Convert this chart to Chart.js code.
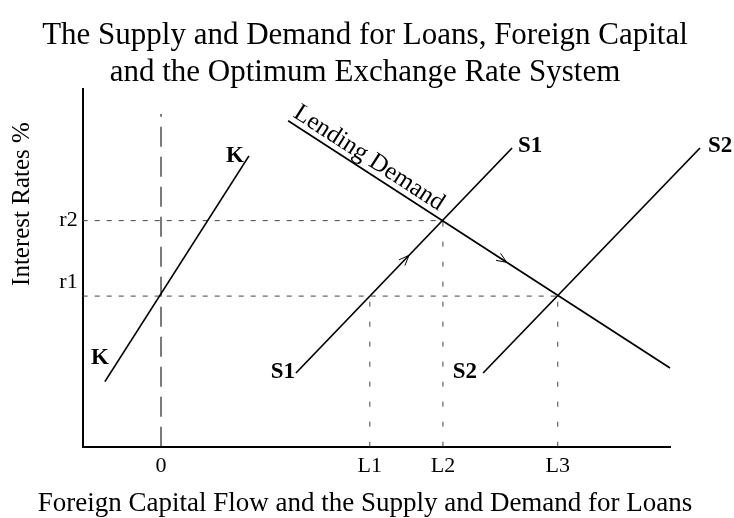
<!DOCTYPE html>
<html lang="en">
<head>
<meta charset="UTF-8">
<title>Supply and Demand for Loans</title>
<script src="https://cdn.jsdelivr.net/npm/chart.js"></script>
<style>
  body { margin: 0; background: #fff; }
  #wrap { width: 734px; height: 518px; }
</style>
</head>
<body>
<div id="wrap"><canvas id="chart" width="734" height="518"></canvas></div>
<script>
    // tick labels
    const rateTicks = [4.6, 6.32];
    const rateLabels = ['r1', 'r2'];
    const flowTicks = [0, 8.0, 10.8, 15.2];
    const flowLabels = ['0', 'L1', 'L2', 'L3'];

    // equilibrium levels
    const r1 = 4.21, r2 = 6.32;
    const L1 = 8.0, L2 = 10.8, L3 = 15.2;

    // curves: x = capital flow / loans, y = interest rate
    const kCurve = [{ x: -2.15, y: 1.82 }, { x: 3.37, y: 8.13 }];
    const s1Curve = [{ x: 5.17, y: 2.06 }, { x: 13.45, y: 8.35 }];
    const s2Curve = [{ x: 12.34, y: 2.06 }, { x: 20.65, y: 8.35 }];
    const demandCurve = [{ x: 4.87, y: 9.11 }, { x: 19.5, y: 2.2 }];
    const zeroLine = [{ x: 0, y: 0 }, { x: 0, y: 9.3 }];

    // arrows sit on these x values of S1 and the demand curve
    const arrowAt = [{ curve: 1, x: 9.5 }, { curve: 3, x: 13.25 }];

    const xMin = -3, xMax = 19.5;
    const serif = '"Liberation Serif", "Times New Roman", serif';

    function solid(data) {
        return { data: data, showLine: true, borderColor: '#000', borderWidth: 1.7, pointRadius: 0, clip: false };
    }

    function dashed(data, dash, color, width) {
        return { data: data, showLine: true, borderColor: color, borderWidth: width, borderDash: dash, pointRadius: 0, clip: false };
    }

    const datasets = [
        solid(kCurve),
        solid(s1Curve),
        solid(s2Curve),
        solid(demandCurve),
        dashed(zeroLine, [20, 10], '#222', 1.2),
        dashed([{ x: xMin, y: r2 }, { x: L2, y: r2 }], [5, 7], '#444', 1),
        dashed([{ x: xMin, y: r1 }, { x: L3, y: r1 }], [5, 7], '#444', 1),
        dashed([{ x: L1, y: 0 }, { x: L1, y: r1 }], [5, 15], '#444', 1),
        dashed([{ x: L2, y: 0 }, { x: L2, y: r2 }], [5, 15], '#444', 1),
        dashed([{ x: L3, y: 0 }, { x: L3, y: r1 }], [5, 15], '#444', 1)
    ];

    // curve end labels: which dataset, which end, text and nudge
    const endLabels = [
        { ds: 0, end: 0, text: 'K', dx: -5, dy: -24, align: 'center' },
        { ds: 0, end: 1, text: 'K', dx: -5, dy: 0, align: 'right' },
        { ds: 1, end: 0, text: 'S1', dx: -1, dy: -1, align: 'right' },
        { ds: 1, end: 1, text: 'S1', dx: 6, dy: -2, align: 'left' },
        { ds: 2, end: 0, text: 'S2', dx: -6, dy: -1, align: 'right' },
        { ds: 2, end: 1, text: 'S2', dx: 8, dy: -2, align: 'left' }
    ];

    const annotate = {
        id: 'annotate',
        afterDatasetsDraw(chart) {
            const { ctx, scales } = chart;
            const px = p => ({ x: scales.x.getPixelForValue(p.x), y: scales.y.getPixelForValue(p.y) });
            ctx.save();
            ctx.fillStyle = '#000';
            ctx.strokeStyle = '#000';

            // labels at line ends
            ctx.font = 'bold 23px ' + serif;
            ctx.textBaseline = 'middle';
            endLabels.forEach(l => {
                const p = px(chart.data.datasets[l.ds].data[l.end]);
                ctx.textAlign = l.align;
                ctx.fillText(l.text, p.x + l.dx, p.y + l.dy);
            });

            // arrow heads
            ctx.lineWidth = 1;
            arrowAt.forEach(a => {
                const d = chart.data.datasets[a.curve].data;
                const t = (a.x - d[0].x) / (d[1].x - d[0].x);
                const tip = px({ x: a.x, y: d[0].y + t * (d[1].y - d[0].y) });
                const p0 = px(d[0]), p1 = px(d[1]);
                const ang = Math.atan2(p1.y - p0.y, p1.x - p0.x);
                const len = 11, spread = 22 * Math.PI / 180;
                ctx.beginPath();
                ctx.moveTo(tip.x - len * Math.cos(ang - spread), tip.y - len * Math.sin(ang - spread));
                ctx.lineTo(tip.x, tip.y);
                ctx.lineTo(tip.x - len * Math.cos(ang + spread), tip.y - len * Math.sin(ang + spread));
                ctx.stroke();
            });

            // "Lending Demand" written along the demand curve
            const a = px(demandCurve[0]), b = px(demandCurve[1]);
            ctx.save();
            ctx.translate(a.x, a.y);
            ctx.rotate(Math.atan2(b.y - a.y, b.x - a.x));
            ctx.font = '25px ' + serif;
            ctx.textAlign = 'left';
            ctx.textBaseline = 'alphabetic';
            ctx.fillText('Lending Demand', 1, -6);
            ctx.restore();

            // y axis title, placed above centre as in the original
            ctx.save();
            ctx.translate(22, 204);
            ctx.rotate(-Math.PI / 2);
            ctx.font = '25px ' + serif;
            ctx.textAlign = 'center';
            ctx.textBaseline = 'middle';
            ctx.fillText('Interest Rates %', 0, 0);
            ctx.restore();

            // x axis title, centred on the page rather than the plot
            ctx.font = '27px ' + serif;
            ctx.textAlign = 'center';
            ctx.textBaseline = 'middle';
            ctx.fillText('Foreign Capital Flow and the Supply and Demand for Loans', 365, 504);

            ctx.restore();
        }
    };

    new Chart(document.getElementById('chart'), {
        type: 'scatter',
        data: { datasets: datasets },
        plugins: [annotate],
        options: {
            responsive: false,
            animation: false,
            layout: { padding: { left: 0, right: 4, top: 0, bottom: 0 } },
            plugins: {
                legend: { display: false },
                tooltip: { enabled: false },
                title: {
                    display: true,
                    text: ['The Supply and Demand for Loans, Foreign Capital', 'and the Optimum Exchange Rate System'],
                    color: '#000',
                    font: { family: serif, size: 31, weight: 'normal', lineHeight: 37 / 31 },
                    padding: { top: 17, bottom: -2 }
                }
            },
            scales: {
                x: {
                    type: 'linear',
                    min: xMin,
                    max: xMax,
                    grid: { display: false, drawTicks: false },
                    border: { display: true, color: '#000', width: 2 },
                    afterBuildTicks: s => { s.ticks = flowTicks.map(v => ({ value: v })); },
                    afterFit: s => { s.height = 71.3; },
                    ticks: {
                        color: '#000',
                        autoSkip: false,
                        maxRotation: 0,
                        padding: 6,
                        font: { family: serif, size: 22 },
                        callback: v => flowLabels[flowTicks.indexOf(v)]
                    }
                },
                y: {
                    type: 'linear',
                    min: 0,
                    max: 10,
                    grid: { display: false, drawTicks: false },
                    border: { display: true, color: '#000', width: 2 },
                    afterBuildTicks: s => { s.ticks = rateTicks.map(v => ({ value: v })); },
                    afterFit: s => { s.width = 82.7; },
                    ticks: {
                        color: '#000',
                        autoSkip: false,
                        padding: 5,
                        font: { family: serif, size: 22 },
                        callback: v => rateLabels[rateTicks.indexOf(v)]
                    }
                },
                // empty strip on the right so the plot ends where the original does
                yRight: {
                    type: 'linear',
                    position: 'right',
                    grid: { display: false, drawTicks: false },
                    border: { display: false },
                    ticks: { display: false },
                    afterFit: s => { s.width = 60; }
                }
            }
        }
    });
</script>
</body>
</html>
